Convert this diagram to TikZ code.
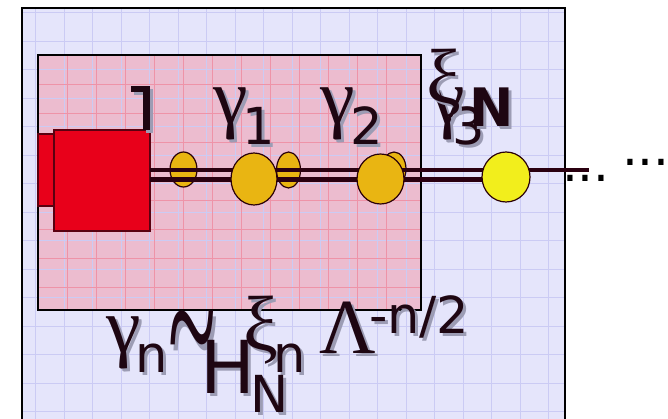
\documentclass[tikz,border=0pt]{standalone}
\usepackage{fontspec}
\usepackage{graphicx}
\usepackage{xcolor}
\usepackage{tikz}
\usetikzlibrary{shapes.geometric,calc}

\newfontfamily\grkfont{Liberation Serif}
\newfontfamily\snsfont{DejaVu Sans}

\definecolor{lavbg}{HTML}{E5E5FB}
\definecolor{pinkbg}{HTML}{ECBCCF}
\definecolor{gridblue}{HTML}{CBCBF4}
\definecolor{gridred}{HTML}{EE93A8}
\definecolor{clampred}{HTML}{E8001A}
\definecolor{clampedge}{HTML}{5A0010}
\definecolor{beadgold}{HTML}{E9B512}
\definecolor{beadyellow}{HTML}{F2EE1C}
\definecolor{beadedge}{HTML}{2A0008}
\definecolor{raildark}{HTML}{2A0010}
\definecolor{inkdark}{HTML}{1E0612}
\definecolor{shadowgray}{HTML}{9C9CB4}

% text with a soft drop shadow
\newcommand{\shd}[1]{\makebox[0pt][l]{\kern3pt\raisebox{-3pt}{\color{shadowgray}#1}}#1}

\begin{document}
\begin{tikzpicture}[x=1pt, y=-1pt,
    every node/.style={inner sep=0pt, outer sep=0pt},
    lbl/.style={anchor=base west, text=inkdark},
    grk/.style={lbl, font=\grkfont\fontsize{78}{80}\selectfont},
    sns/.style={lbl, font=\snsfont\fontsize{51}{53}\selectfont},
    clampbox/.style={draw=clampedge, line width=1.2pt, fill=clampred},
    bead/.style={ellipse, draw=beadedge, line width=1.2pt, fill=beadgold},
    rail/.style={draw=raildark, line width=4.5pt}]

    \useasboundingbox (0,0) rectangle (668,419);

    % frame and boxes
    \fill[lavbg] (22,8) rectangle (565,425);
    \fill[pinkbg] (38,55) rectangle (421,310);
    \foreach \gx in {35.5,64,...,565} \draw[gridblue, line width=0.7pt] (\gx,8) -- (\gx,419);
    \foreach \gy in {12.5,41,...,419} \draw[gridblue, line width=0.7pt] (22,\gy) -- (565,\gy);
    \foreach \gx in {67,96,...,410} \draw[gridred, line width=0.7pt] (\gx,55) -- (\gx,310);
    \foreach \gy in {84,113,...,300} \draw[gridred, line width=0.7pt] (38,\gy) -- (421,\gy);
    \draw[line width=2.5pt] (22,425) -- (22,8) -- (565,8) -- (565,425);
    \draw[line width=1.5pt] (38,55) rectangle (421,310);

    % clamp
    \node[clampbox, minimum width=17pt, minimum height=72pt] (clampback) at (46.5,170) {};
    \node[clampbox, minimum width=96pt, minimum height=101pt] (clamp) at (102,180.5) {};
    \draw[shadowgray, line width=6.5pt] (134,92) -- (149.5,92) -- (149.5,133);
    \draw[inkdark, line width=6.5pt] (131,89) -- (146.5,89) -- (146.5,130);

    % small beads behind the chain
    \node[bead, minimum width=27pt, minimum height=35pt] (b1) at (183.5,169.5) {};
    \node[bead, minimum width=24pt, minimum height=36pt] (b3) at (288.5,170) {};
    \node[bead, minimum width=24pt, minimum height=34pt] (b5) at (394,169) {};

    % chain
    \coordinate (railend) at (589,170);
    \coordinate (lowend) at (490,179.5);
    \draw[rail] ($(clamp.east)+(0,-10.5)$) -- (railend);
    \draw[rail] ($(clamp.east)+(0,-1)$) -- (lowend);

    % big beads
    \node[bead, minimum width=46pt, minimum height=52pt] (b2) at (254,179) {};
    \node[bead, minimum width=47pt, minimum height=50pt] (b4) at (380.5,179) {};
    \node[bead, fill=beadyellow, minimum width=48pt, minimum height=50pt] (b6) at (506,177) {};

    \node[font=\snsfont\fontsize{50}{52}\selectfont, anchor=base west] (dotslow) at (562,182) {...};
    \node[font=\snsfont\fontsize{50}{52}\selectfont, anchor=base west] (dotshigh) at (622,166) {...};

    % top labels
    \node[grk] (g1) at (213,124) {\shd{γ}};
    \node[sns] (g1sub) at (242,145) {\shd{1}};
    \node[grk] (g2) at (320,124) {\shd{γ}};
    \node[sns] (g2sub) at (350,145) {\shd{2}};
    \node[grk] (g3) at (430,124) {\shd{γ}};
    \node[sns] (g3sub) at (452,145) {\shd{3}};
    \node[grk] (xitop) at (426,104) {\shd{ξ}};
    \node[lbl, font=\snsfont\bfseries\fontsize{53}{55}\selectfont] (ntop) at (469,127) {\shd{N}};

    % bottom formula
    \node[grk] (gn) at (106,352) {\shd{γ}};
    \node[sns] (gnsub) at (135,372) {\shd{n}};
    \node[lbl, font=\grkfont\fontsize{88}{90}\selectfont] (tilde) at (168,394) {\scalebox{1}[2.3]{\shd{\textasciitilde}}};
    \node[lbl, font=\snsfont\fontsize{73}{75}\selectfont] (hbig) at (200,393) {\shd{H}};
    \node[grk] (xibot) at (243,350) {\shd{ξ}};
    \node[sns] (hsup) at (273,372) {\shd{n}};
    \node[sns] (hsub) at (250,412) {\shd{N}};
    \node[grk] (lam) at (319,353) {\shd{Λ}};
    \node[sns] (lamsup) at (369,333) {\shd{-n/2}};
\end{tikzpicture}
\end{document}
